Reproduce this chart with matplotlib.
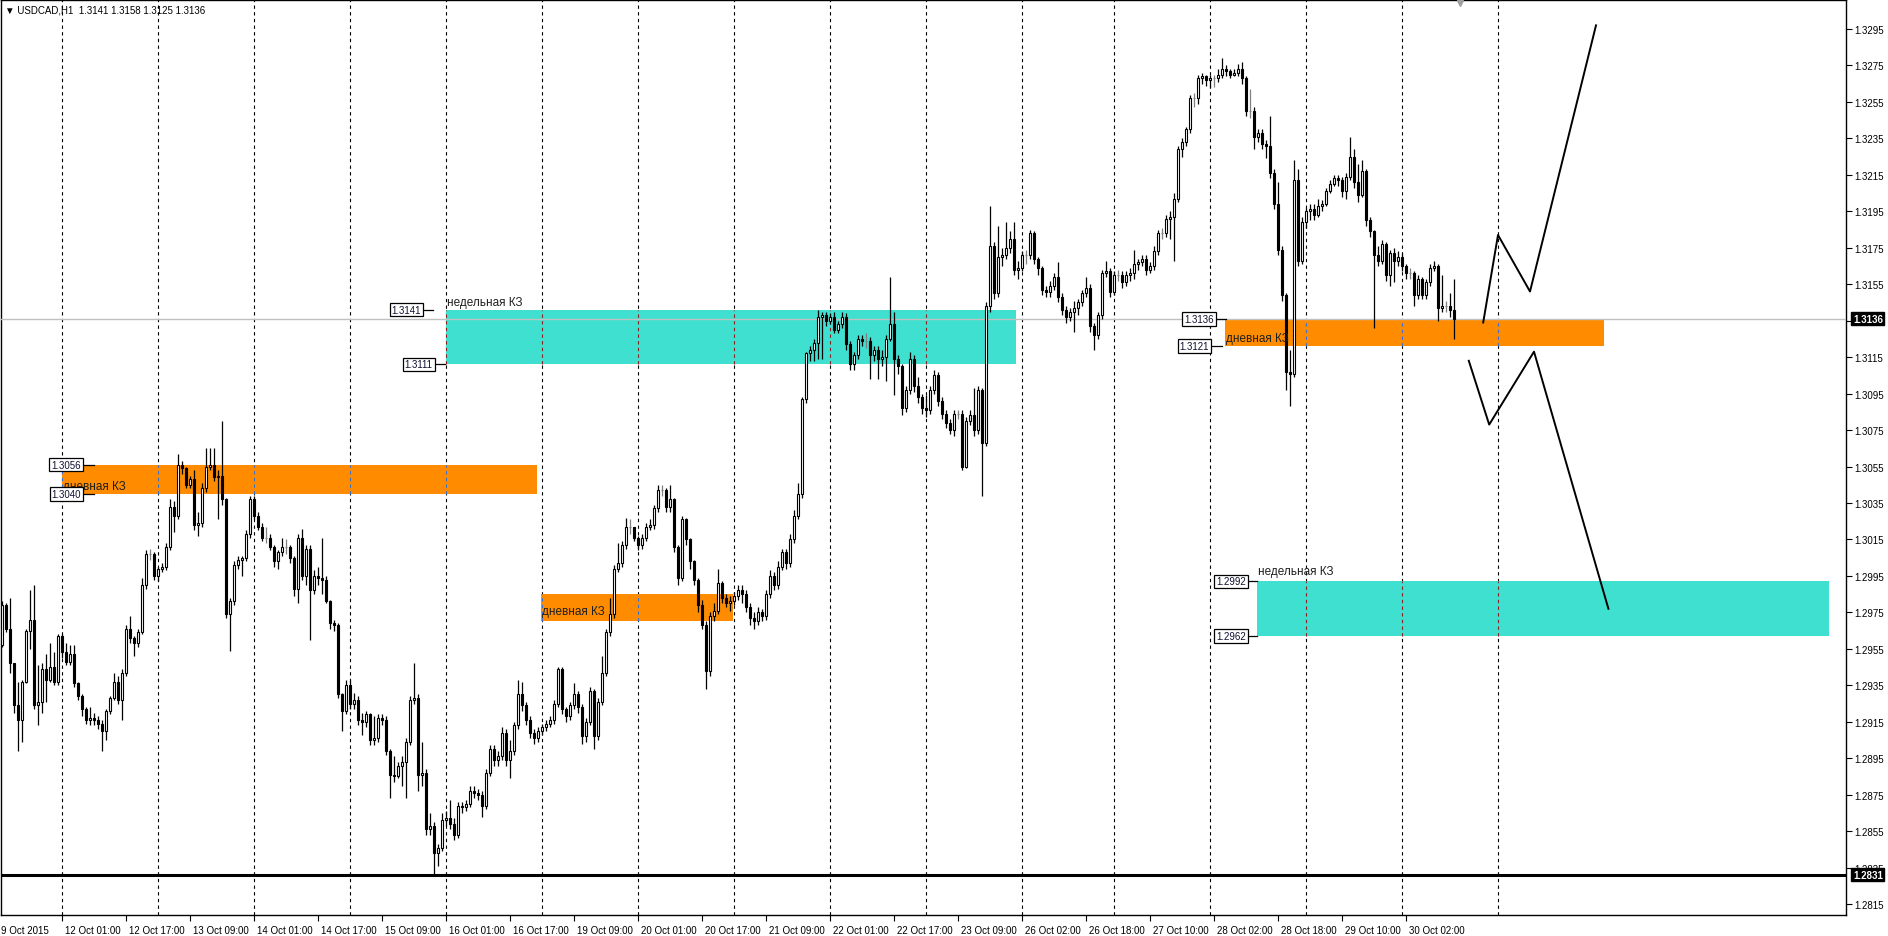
import numpy as np
import matplotlib
matplotlib.use("Agg")
import matplotlib.pyplot as plt
from matplotlib.patches import Rectangle

plt.rcParams['font.family'] = ['Liberation Sans', 'DejaVu Sans']

# ---- data (H1 candles, prices in pips: 12979 -> 1.2979) ----
first_open = 12957
close_pips = [
    12979, 12966, 12947, 12924, 12916, 12937, 12965, 12971, 12924, 12926, 12944, 12938, 12945, 12937, 12962,
    12953, 12948, 12952, 12936, 12929, 12922, 12916, 12917, 12916, 12914, 12910, 12921, 12928, 12937, 12927, 12942, 12966, 12961, 12958, 12964, 12990, 13007, 13007, 12995,
    12999, 13000, 13011, 13033, 13028, 13056, 13054, 13045, 13048, 13023, 13024, 13043, 13055, 13056, 13049, 13050, 13037, 12974, 12981, 13001, 13004, 13005, 13018, 13037,
    13028, 13022, 13016, 13016, 13011, 13003, 13008, 13011, 13011, 13005, 12988, 13016, 12995, 13010, 12987, 12995, 12994, 12993, 12981, 12969, 12968, 12930, 12921, 12935,
    12925, 12927, 12916, 12915, 12919, 12905, 12906, 12917, 12916, 12899, 12886, 12885, 12891, 12893, 12904, 12927, 12928, 12886, 12887, 12856, 12858, 12843, 12846, 12861,
    12862, 12859, 12853, 12869, 12868, 12870, 12877, 12876, 12875, 12869, 12887, 12900, 12894, 12896, 12909, 12894, 12899, 12913, 12930, 12924, 12916, 12909, 12906, 12910,
    12912, 12914, 12916, 12925, 12944, 12922, 12918, 12924, 12930, 12923, 12907, 12915, 12932, 12907, 12926, 12942, 12964, 12974, 12999, 13002, 13012, 13022, 13022, 13016,
    13012, 13016, 13022, 13023, 13032, 13042, 13042, 13033, 13037, 13011, 12994, 13026, 13015, 13003, 12993, 12979, 12968, 12943, 12973, 12976, 12991, 12983, 12980, 12981,
    12984, 12987, 12985, 12978, 12972, 12970, 12975, 12973, 12985, 12995, 12990, 13000, 13008, 13002, 13015, 13028, 13040, 13092, 13117, 13119, 13123, 13137, 13138, 13135,
    13137, 13130, 13133, 13137, 13122, 13111, 13116, 13125, 13124, 13124, 13116, 13119, 13114, 13115, 13125, 13133, 13114, 13110, 13087, 13097, 13114, 13099, 13093, 13087,
    13086, 13097, 13105, 13091, 13084, 13079, 13075, 13084, 13084, 13055, 13080, 13083, 13075, 13097, 13068, 13143, 13176, 13150, 13170, 13171, 13175, 13180, 13163, 13164,
    13171, 13171, 13183, 13169, 13164, 13152, 13151, 13154, 13159, 13148, 13141, 13137, 13140, 13142, 13145, 13150, 13153, 13132, 13127, 13138, 13161, 13162, 13151, 13160,
    13160, 13156, 13160, 13161, 13166, 13167, 13169, 13163, 13165, 13173, 13183, 13183, 13191, 13192, 13202, 13229, 13233, 13240, 13257, 13257, 13268, 13269, 13267, 13268,
    13268, 13270, 13273, 13272, 13270, 13271, 13273, 13268, 13250, 13250, 13236, 13238, 13232, 13231, 13216, 13199, 13174, 13149, 13107, 13106, 13212, 13168, 13189, 13195,
    13196, 13193, 13198, 13199, 13206, 13210, 13213, 13212, 13206, 13214, 13225, 13211, 13204, 13217, 13190, 13184, 13171, 13168, 13177, 13160, 13172, 13168, 13170, 13165,
    13161, 13161, 13149, 13158, 13149, 13156, 13164, 13165, 13142, 13143, 13143, 13141, 13136,
]
high_pips = [
    12981, 12980, 12983, 12947, 12937, 12938, 12966, 12987, 12990, 12946, 12947, 12952, 12958, 12953, 12963,
    12963, 12958, 12957, 12957, 12937, 12930, 12923, 12923, 12920, 12918, 12916, 12922, 12929, 12942, 12940, 12944, 12968, 12973, 12962, 12966, 12994, 13009, 13010, 13008,
    13000, 13002, 13013, 13037, 13036, 13062, 13058, 13055, 13050, 13053, 13030, 13046, 13065, 13065, 13065, 13053, 13080, 13038, 12983, 13003, 13006, 13006, 13020, 13039,
    13039, 13030, 13024, 13022, 13018, 13012, 13009, 13016, 13015, 13012, 13006, 13018, 13021, 13012, 13012, 12998, 13000, 13016, 12995, 12982, 12971, 12969, 12931, 12938,
    12938, 12931, 12929, 12920, 12921, 12920, 12918, 12919, 12919, 12918, 12900, 12896, 12893, 12896, 12906, 12929, 12947, 12930, 12904, 12889, 12865, 12860, 12848, 12865,
    12866, 12872, 12862, 12871, 12871, 12872, 12880, 12880, 12878, 12877, 12889, 12902, 12902, 12899, 12912, 12911, 12905, 12915, 12938, 12937, 12926, 12918, 12911, 12912,
    12914, 12916, 12918, 12927, 12945, 12945, 12923, 12926, 12936, 12932, 12925, 12917, 12934, 12933, 12928, 12951, 12966, 12983, 13001, 13013, 13014, 13027, 13026, 13018,
    13017, 13018, 13024, 13026, 13034, 13045, 13045, 13043, 13045, 13038, 13012, 13028, 13027, 13016, 13004, 12994, 12982, 12970, 12975, 12980, 12999, 12992, 12985, 12984,
    12986, 12990, 12990, 12987, 12980, 12975, 12978, 12977, 12987, 12998, 12997, 13003, 13010, 13010, 13018, 13031, 13046, 13093, 13118, 13121, 13125, 13141, 13140, 13140,
    13139, 13140, 13135, 13140, 13139, 13124, 13118, 13127, 13127, 13128, 13126, 13121, 13121, 13119, 13127, 13159, 13140, 13116, 13111, 13099, 13118, 13116, 13104, 13095,
    13094, 13099, 13108, 13107, 13093, 13086, 13081, 13086, 13086, 13086, 13082, 13086, 13098, 13099, 13098, 13145, 13198, 13178, 13187, 13175, 13189, 13184, 13189, 13168,
    13173, 13174, 13185, 13184, 13170, 13165, 13154, 13157, 13161, 13167, 13150, 13143, 13142, 13146, 13147, 13152, 13159, 13155, 13134, 13140, 13163, 13168, 13164, 13162,
    13163, 13162, 13162, 13164, 13174, 13169, 13171, 13171, 13167, 13176, 13185, 13186, 13193, 13195, 13205, 13231, 13235, 13241, 13259, 13260, 13270, 13271, 13270, 13270,
    13270, 13273, 13279, 13275, 13273, 13273, 13276, 13277, 13269, 13262, 13252, 13240, 13240, 13234, 13247, 13218, 13211, 13176, 13150, 13119, 13223, 13218, 13192, 13197,
    13199, 13199, 13202, 13201, 13208, 13212, 13215, 13215, 13214, 13216, 13236, 13229, 13221, 13223, 13218, 13192, 13185, 13176, 13179, 13178, 13174, 13175, 13173, 13172,
    13166, 13164, 13162, 13160, 13159, 13158, 13166, 13168, 13166, 13160, 13146, 13150, 13158,
]
low_pips = [
    12956, 12964, 12942, 12920, 12899, 12904, 12936, 12955, 12922, 12913, 12920, 12926, 12937, 12935, 12935,
    12950, 12946, 12946, 12934, 12927, 12918, 12914, 12913, 12913, 12911, 12899, 12905, 12919, 12927, 12925, 12916, 12940, 12958, 12951, 12956, 12963, 12988, 13004, 12993,
    12992, 12997, 12998, 13009, 13019, 13026, 13051, 13043, 13043, 13020, 13017, 13022, 13041, 13053, 13047, 13026, 13034, 12972, 12954, 12979, 12999, 12995, 13003, 13016,
    13026, 13020, 13014, 13013, 13009, 13000, 12999, 13006, 13007, 13002, 12984, 12980, 12993, 12990, 12960, 12985, 12990, 12985, 12980, 12966, 12965, 12928, 12910, 12919,
    12922, 12922, 12913, 12908, 12912, 12902, 12902, 12904, 12913, 12897, 12873, 12882, 12884, 12880, 12873, 12902, 12925, 12877, 12880, 12853, 12853, 12831, 12836, 12844,
    12858, 12856, 12850, 12851, 12865, 12866, 12868, 12873, 12872, 12863, 12867, 12885, 12891, 12891, 12894, 12891, 12884, 12897, 12911, 12921, 12913, 12906, 12903, 12904,
    12908, 12910, 12912, 12914, 12923, 12919, 12915, 12916, 12922, 12920, 12903, 12904, 12913, 12900, 12905, 12924, 12940, 12962, 12972, 12997, 13000, 13010, 13018, 13014,
    13009, 13010, 13014, 13020, 13021, 13030, 13039, 13030, 13030, 13008, 12990, 12992, 13012, 12999, 12990, 12975, 12966, 12933, 12940, 12970, 12974, 12980, 12978, 12976,
    12979, 12982, 12980, 12975, 12968, 12966, 12968, 12970, 12971, 12983, 12987, 12988, 12998, 12999, 13000, 13013, 13026, 13038, 13090, 13113, 13113, 13114, 13114, 13132,
    13133, 13128, 13128, 13131, 13119, 13108, 13108, 13114, 13121, 13120, 13103, 13113, 13103, 13110, 13102, 13124, 13094, 13106, 13083, 13085, 13095, 13096, 13090, 13084,
    13082, 13084, 13095, 13088, 13081, 13076, 13073, 13072, 13081, 13053, 13054, 13078, 13072, 13073, 13039, 13066, 13140, 13147, 13148, 13165, 13169, 13172, 13160, 13158,
    13162, 13166, 13169, 13166, 13160, 13149, 13148, 13148, 13152, 13145, 13138, 13134, 13135, 13129, 13138, 13143, 13148, 13129, 13119, 13125, 13136, 13159, 13148, 13149,
    13157, 13153, 13154, 13157, 13158, 13163, 13165, 13160, 13161, 13163, 13171, 13180, 13181, 13180, 13168, 13200, 13225, 13231, 13238, 13252, 13254, 13265, 13264, 13263,
    13263, 13266, 13268, 13269, 13268, 13269, 13269, 13265, 13247, 13246, 13229, 13233, 13229, 13224, 13213, 13196, 13171, 13146, 13097, 13088, 13104, 13165, 13166, 13186,
    13190, 13190, 13192, 13195, 13198, 13205, 13209, 13209, 13203, 13202, 13212, 13208, 13200, 13203, 13187, 13181, 13131, 13165, 13166, 13157, 13154, 13156, 13165, 13162,
    13158, 13158, 13143, 13147, 13147, 13147, 13154, 13162, 13135, 13140, 13140, 13137, 13125,
]
first_bar = -15  # bar 0 = 12 Oct 01:00

time_labels = ["12 Oct 01:00", "12 Oct 17:00", "13 Oct 09:00", "14 Oct 01:00", "14 Oct 17:00",
               "15 Oct 09:00", "16 Oct 01:00", "16 Oct 17:00", "19 Oct 09:00", "20 Oct 01:00",
               "20 Oct 17:00", "21 Oct 09:00", "22 Oct 01:00", "22 Oct 17:00", "23 Oct 09:00",
               "26 Oct 02:00", "26 Oct 18:00", "27 Oct 10:00", "28 Oct 02:00", "28 Oct 18:00",
               "29 Oct 10:00", "30 Oct 02:00"]
price_ticks = [1.2815 + 0.002 * k for k in range(25)]
# daily grid lines (bar index), one hour missing after 26 Oct
grid_x = [0, 24, 48, 72, 96, 120, 144, 168, 192, 216, 240, 263, 287, 311, 335, 359]

# zones: start bar, end bar, low, high, colour
zone_start = [0, 96, 119.75, 290.75, 298.75]
zone_end = [118.75, 238.5, 167.75, 385.5, 441.75]
zone_low = [1.3040, 1.3111, 1.2970, 1.3121, 1.2962]
zone_high = [1.3056, 1.3141, 1.2985, 1.3136, 1.2992]
zone_color = ['#FF8C00', '#40E0D0', '#FF8C00', '#FF8C00', '#40E0D0']

# forecast paths (bar, price)
up_x = [355.3, 359.0, 367.0, 383.5]
up_y = [1.3134, 1.3182, 1.3151, 1.3297]
dn_x = [351.7, 356.8, 368.0, 386.6]
dn_y = [1.3113, 1.3078, 1.3118, 1.2977]

last_price = 1.3136
hline_price = 1.2831

# ---- build OHLC ----
c = np.array(close_pips) / 10000.0
h = np.array(high_pips) / 10000.0
l = np.array(low_pips) / 10000.0
o = np.concatenate([[first_open / 10000.0], c[:-1]])
h = np.maximum(h, np.maximum(o, c))
l = np.minimum(l, np.minimum(o, c))
x = np.arange(first_bar, first_bar + len(c))

W, H = 1888, 937
fig = plt.figure(figsize=(W / 100, H / 100), dpi=100)
ax = fig.add_axes([1 / W, 21 / H, 1845 / W, 915 / H])
ax.set_xlim(-15.25, 446)
ax.set_ylim(1.28090, 1.33109)

# vertical dashed grid
for gx in grid_x:
    ax.axvline(gx, color='black', lw=0.8, ls=(0, (3, 3)), zorder=1)

# zones (grid shows through in inverted colour)
for x0, x1, y0, y1, col in zip(zone_start, zone_end, zone_low, zone_high, zone_color):
    ax.add_patch(Rectangle((x0, y0), x1 - x0, y1 - y0, facecolor=col, edgecolor='none', zorder=2))
    xor_col = '#8B2020' if col == '#40E0D0' else '#3A6FD0'
    for gx in grid_x:
        if x0 <= gx <= x1:
            ax.plot([gx, gx], [y0, y1], color=xor_col, lw=0.8, ls=(0, (3, 3)), zorder=2.5)

# bid line and horizontal line
ax.axhline(last_price, color='#C0C0C0', lw=1.0, zorder=3)
ax.axhline(hline_price, color='black', lw=2.2, zorder=3)

# candles
up = c > o
dn = c < o
dj = c == o
wick_col = np.where(dj, '#808080', 'black')
ax.vlines(x, l, h, colors=wick_col, lw=0.9, zorder=4)
bw = 0.58
ax.bar(x[up], (c - o)[up], bottom=o[up], width=bw, color='white', edgecolor='black', lw=0.8, zorder=5)
ax.bar(x[dn], (o - c)[dn], bottom=c[dn], width=bw, color='black', edgecolor='black', lw=0.8, zorder=5)
ax.hlines(c[dj], x[dj] - 0.35, x[dj] + 0.35, colors='#808080', lw=0.9, zorder=5)

# forecast lines
ax.plot(up_x, up_y, color='black', lw=1.4, zorder=6)
ax.plot(dn_x, dn_y, color='black', lw=1.4, zorder=6)

# captions
cap_kw = dict(fontsize=8.5, color='#202020', va='center', ha='left', zorder=7)
ax.text(0.3, 1.30443, 'дневная КЗ', **cap_kw)
ax.text(96.2, 1.31455, 'недельная КЗ', **cap_kw)
ax.text(119.9, 1.29755, 'дневная КЗ', **cap_kw)
ax.text(290.9, 1.31255, 'дневная КЗ', **cap_kw)
ax.text(298.9, 1.29975, 'недельная КЗ', **cap_kw)

# price tags (box right px, line end px, price)
tags = [(83, 94, 1.3056), (83, 94, 1.3040), (423, 433, 1.3141), (435, 445, 1.3111),
        (1216, 1226, 1.3136), (1211, 1222, 1.3121), (1248, 1257, 1.2992), (1248, 1257, 1.2962)]
for bx, lx, p in tags:
    b_box = (bx - 62) / 4.0
    b_line = (lx - 62) / 4.0
    ax.plot([b_box, b_line], [p, p], color='black', lw=0.9, zorder=7)
    ax.text(b_box - 0.55, p, '%.4f' % p, fontsize=7, ha='right', va='center', color='#101030', zorder=8,
            bbox=dict(boxstyle='square,pad=0.18', fc='white', ec='black', lw=0.9))

# axes styling
for s in ax.spines.values():
    s.set_color('black')
    s.set_linewidth(1.0)
ax.yaxis.tick_right()
ax.set_yticks(price_ticks)
ax.set_yticklabels(['%.4f' % v for v in price_ticks])
ax.tick_params(axis='y', direction='out', length=4, width=0.8, pad=2, labelsize=7, colors='black')
ax.set_xticks(np.arange(0, 16 * len(time_labels), 16))
ax.set_xticklabels([])
ax.tick_params(axis='x', direction='out', length=4, width=0.8)
for i, lab in enumerate(time_labels):
    ax.annotate(lab, xy=(16 * i, 0), xycoords=('data', 'axes fraction'), xytext=(2, -11),
                textcoords='offset points', fontsize=7, ha='left', va='center')
ax.annotate('9 Oct 2015', xy=(0, 0), xycoords='axes fraction', xytext=(0, -11),
            textcoords='offset points', fontsize=7, ha='left', va='center')

# right side black price boxes
for p in (last_price, hline_price):
    ax.annotate('%.4f' % p, xy=(1, p), xycoords=('axes fraction', 'data'), xytext=(5, 0),
                textcoords='offset points', fontsize=7, ha='left', va='center', color='white',
                fontweight='bold', zorder=10,
                bbox=dict(boxstyle='square,pad=0.15', fc='black', ec='black'))

# title
ax.text(0.002, 0.9895, '\u25bc USDCAD,H1  1.3141 1.3158 1.3125 1.3136', transform=ax.transAxes,
        fontsize=7, ha='left', va='center', zorder=10)
# chart shift marker
ax.plot([349.5], [1.33095], marker='v', color='#A0A0A0', markersize=5, zorder=10, clip_on=False)

fig.savefig('out.png', dpi=100)
